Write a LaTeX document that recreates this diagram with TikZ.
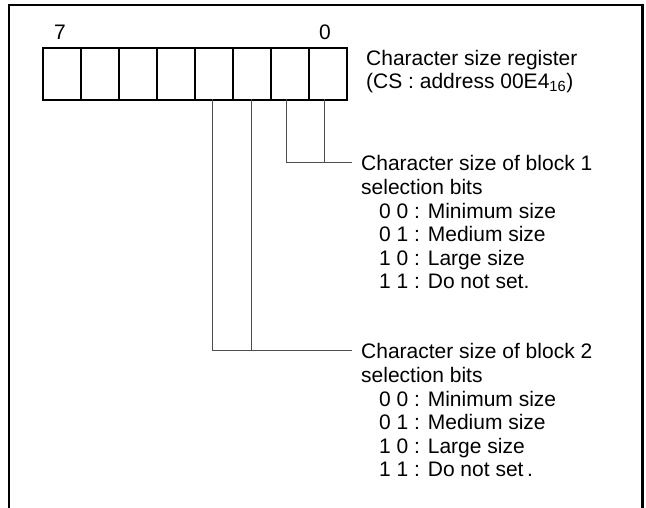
\documentclass[tikz,border=0pt]{standalone}
\usepackage{fontspec}
\setmainfont{Liberation Sans}
\begin{document}
\begin{tikzpicture}[x=1pt,y=-1pt,
  txt/.style={anchor=base west,inner sep=0pt,font=\fontsize{21}{23.5}\selectfont},
  bitlbl/.style={anchor=base,inner sep=0pt,font=\fontsize{21}{23.5}\selectfont},
  cellbox/.style={draw=black,line width=2.4pt,minimum width=38pt,minimum height=52pt,inner sep=0pt,anchor=north west},
  lead/.style={draw=black!70,line width=1pt},
  frame/.style={draw=black,line width=2.6pt}]
\useasboundingbox (0,0) rectangle (646,507);
% frame
\coordinate (fbl) at (9,508);
\coordinate (ftl) at (9,5);
\coordinate (ftr) at (642.5,5);
\coordinate (fbr) at (642.5,508);
\draw[frame] (fbl) -- (ftl) -- (ftr) -- (fbr);
% register cells
\foreach \i in {0,...,7}{
  \node[cellbox] (c\i) at ({41.7+38*\i},47) {};
}
\node[bitlbl] (b7) at (60,39.5) {7};
\node[bitlbl] (b0) at (325,39.5) {0};
\node[txt] (reg1) at (366,65) {Character size register};
\node[txt] (reg2) at (366,88) {(CS : address 00E4\textsubscript{16})};
% leaders
\coordinate (v3) at (212.7,99);
\coordinate (v2) at (251,99);
\coordinate (v1) at (286,99);
\coordinate (v0) at (324.3,99);
\coordinate (h1a) at (286,162.3);
\coordinate (h1b) at (324.3,162.3);
\coordinate (h1c) at (352,162.3);
\coordinate (h2a) at (212.7,350.7);
\coordinate (h2b) at (251,350.7);
\coordinate (h2c) at (352,350.7);
\draw[lead] (v1) -- (h1a) -- (h1c);
\draw[lead] (v0) -- (h1b);
\draw[lead] (v3) -- (h2a) -- (h2c);
\draw[lead] (v2) -- (h2b);
% block 1 text
\node[txt] (t1a) at (361,170.5) {Character size of block 1};
\node[txt] (t1b) at (361,194) {selection bits};
\node[txt] (t1c) at (379,218) {0 0 : Minimum size};
\node[txt] (t1d) at (379,241.5) {0 1 : Medium size};
\node[txt] (t1e) at (379,265) {1 0 : Large size};
\node[txt] (t1f) at (379,288.5) {1 1 : Do not set.};
% block 2 text
\node[txt] (t2a) at (361,358.5) {Character size of block 2};
\node[txt] (t2b) at (361,382) {selection bits};
\node[txt] (t2c) at (379,406) {0 0 : Minimum size};
\node[txt] (t2d) at (379,429.5) {0 1 : Medium size};
\node[txt] (t2e) at (379,453) {1 0 : Large size};
\node[txt] (t2f) at (379,476.5) {1 1 : Do not set\,.};
\end{tikzpicture}
\end{document}
